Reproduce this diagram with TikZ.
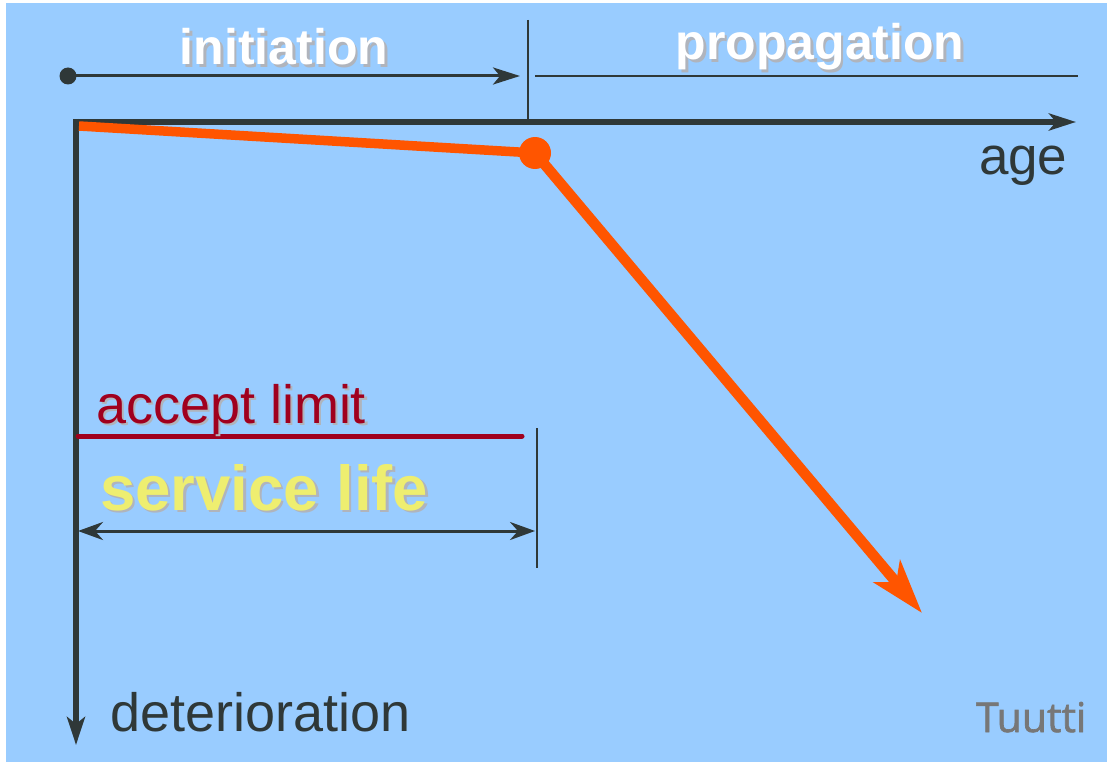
\documentclass[tikz,border=0pt]{standalone}
\usepackage{fontspec}
\setmainfont{Liberation Sans}
\newfontfamily\tuf{Open Sans}[FakeBold=1.6]
\usetikzlibrary{arrows.meta}
\definecolor{bg}{HTML}{99CCFF}
\definecolor{dk}{HTML}{2F3838}
\definecolor{orng}{HTML}{FF5500}
\definecolor{dred}{HTML}{A0001E}
\definecolor{ylw}{HTML}{EEEE70}
\definecolor{shd}{HTML}{B0B4BC}
\definecolor{tug}{HTML}{777777}
\newcommand{\shtxt}[2]{\makebox[0pt][l]{\hspace{2.5pt}\raisebox{-2.5pt}{\color{shd}#2}}\textcolor{#1}{#2}}
\tikzset{
  axis/.style={draw=dk, line width=6pt},
  thinline/.style={draw=dk, line width=2pt},
  tip/.style={-{Stealth[length=27pt,width=17pt,inset=7pt]}},
  lbl/.style={inner sep=0pt, outer sep=0pt},
  bigtxt/.style={lbl, font=\fontsize{50}{56}\selectfont\bfseries},
  midtxt/.style={lbl, font=\fontsize{53}{58}\selectfont, text=dk},
}
\begin{document}
\begin{tikzpicture}[x=1pt,y=-1pt]
\useasboundingbox (0,0) rectangle (1107,765);
\fill[white] (0,0) rectangle (1107,765);
\fill[bg] (6,3) rectangle (1107,762);

% top timeline
\node[circle, fill=dk, minimum size=17pt, inner sep=0pt] (t0) at (68,76) {};
\coordinate (t1) at (520,76);
\draw[dk, line width=3pt, tip] (t0.center) -- (t1);
\coordinate (s0) at (528,20);
\coordinate (s1) at (528,120);
\draw[thinline] (s0) -- (s1);
\coordinate (p0) at (535,76);
\coordinate (p1) at (1078,76);
\draw[dk, line width=2.5pt] (p0) -- (p1);

% axes
\coordinate (o) at (73,122);
\coordinate (xe) at (1076,122);
\coordinate (yo) at (76,119);
\coordinate (ye) at (76,745);
\draw[axis, -{Stealth[length=27pt,width=17pt,inset=7pt]}] (o) -- (xe);
\draw[axis, line width=5.5pt, -{Stealth[length=28pt,width=18pt,inset=7pt]}] (yo) -- (ye);

% orange curve
\coordinate (c0) at (79,126);
\node[circle, fill=orng, minimum size=32pt, inner sep=0pt] (kn) at (535,153) {};
\coordinate (c2) at (922,613);
\draw[orng, line width=9.5pt] (c0) -- (kn.center);
\draw[orng, line width=10.5pt, -{Stealth[length=54pt,width=34pt,inset=14pt]}] (kn.center) -- (c2);

% accept limit
\coordinate (a0) at (78,436);
\coordinate (a1) at (522,436);
\draw[dred, line width=5pt, line cap=round] (a0) -- (a1);
\coordinate (v0) at (537,428);
\coordinate (v1) at (537,568);
\draw[thinline] (v0) -- (v1);

% service life arrow
\coordinate (d0) at (78,531);
\coordinate (d1) at (535,531);
\draw[dk, line width=3pt, {Stealth[length=25pt,width=18pt,inset=8pt]}-{Stealth[length=25pt,width=18pt,inset=8pt]}] (d0) -- (d1);

% texts
\node[bigtxt, anchor=base] (init) at (284,65) {\shtxt{white}{initiation}};
\node[bigtxt, anchor=base] (prop) at (820,60) {\shtxt{white}{propagation}};
\node[midtxt, anchor=base west] (age) at (979,174) {age};
\node[midtxt, anchor=base west, font=\fontsize{54}{60}\selectfont] (acc) at (96,423) {\shtxt{dred}{accept limit}};
\node[lbl, anchor=base west, font=\fontsize{63.5}{70}\selectfont\bfseries] (serv) at (100,510) {\shtxt{ylw}{service life}};
\node[midtxt, anchor=base west, font=\fontsize{54}{60}\selectfont] (det) at (110,731) {deterioration};
\node[lbl, anchor=base west, font=\tuf\fontsize{41}{46}\selectfont, text=tug] (tut) at (976,732) {Tuutti};
\end{tikzpicture}
\end{document}
